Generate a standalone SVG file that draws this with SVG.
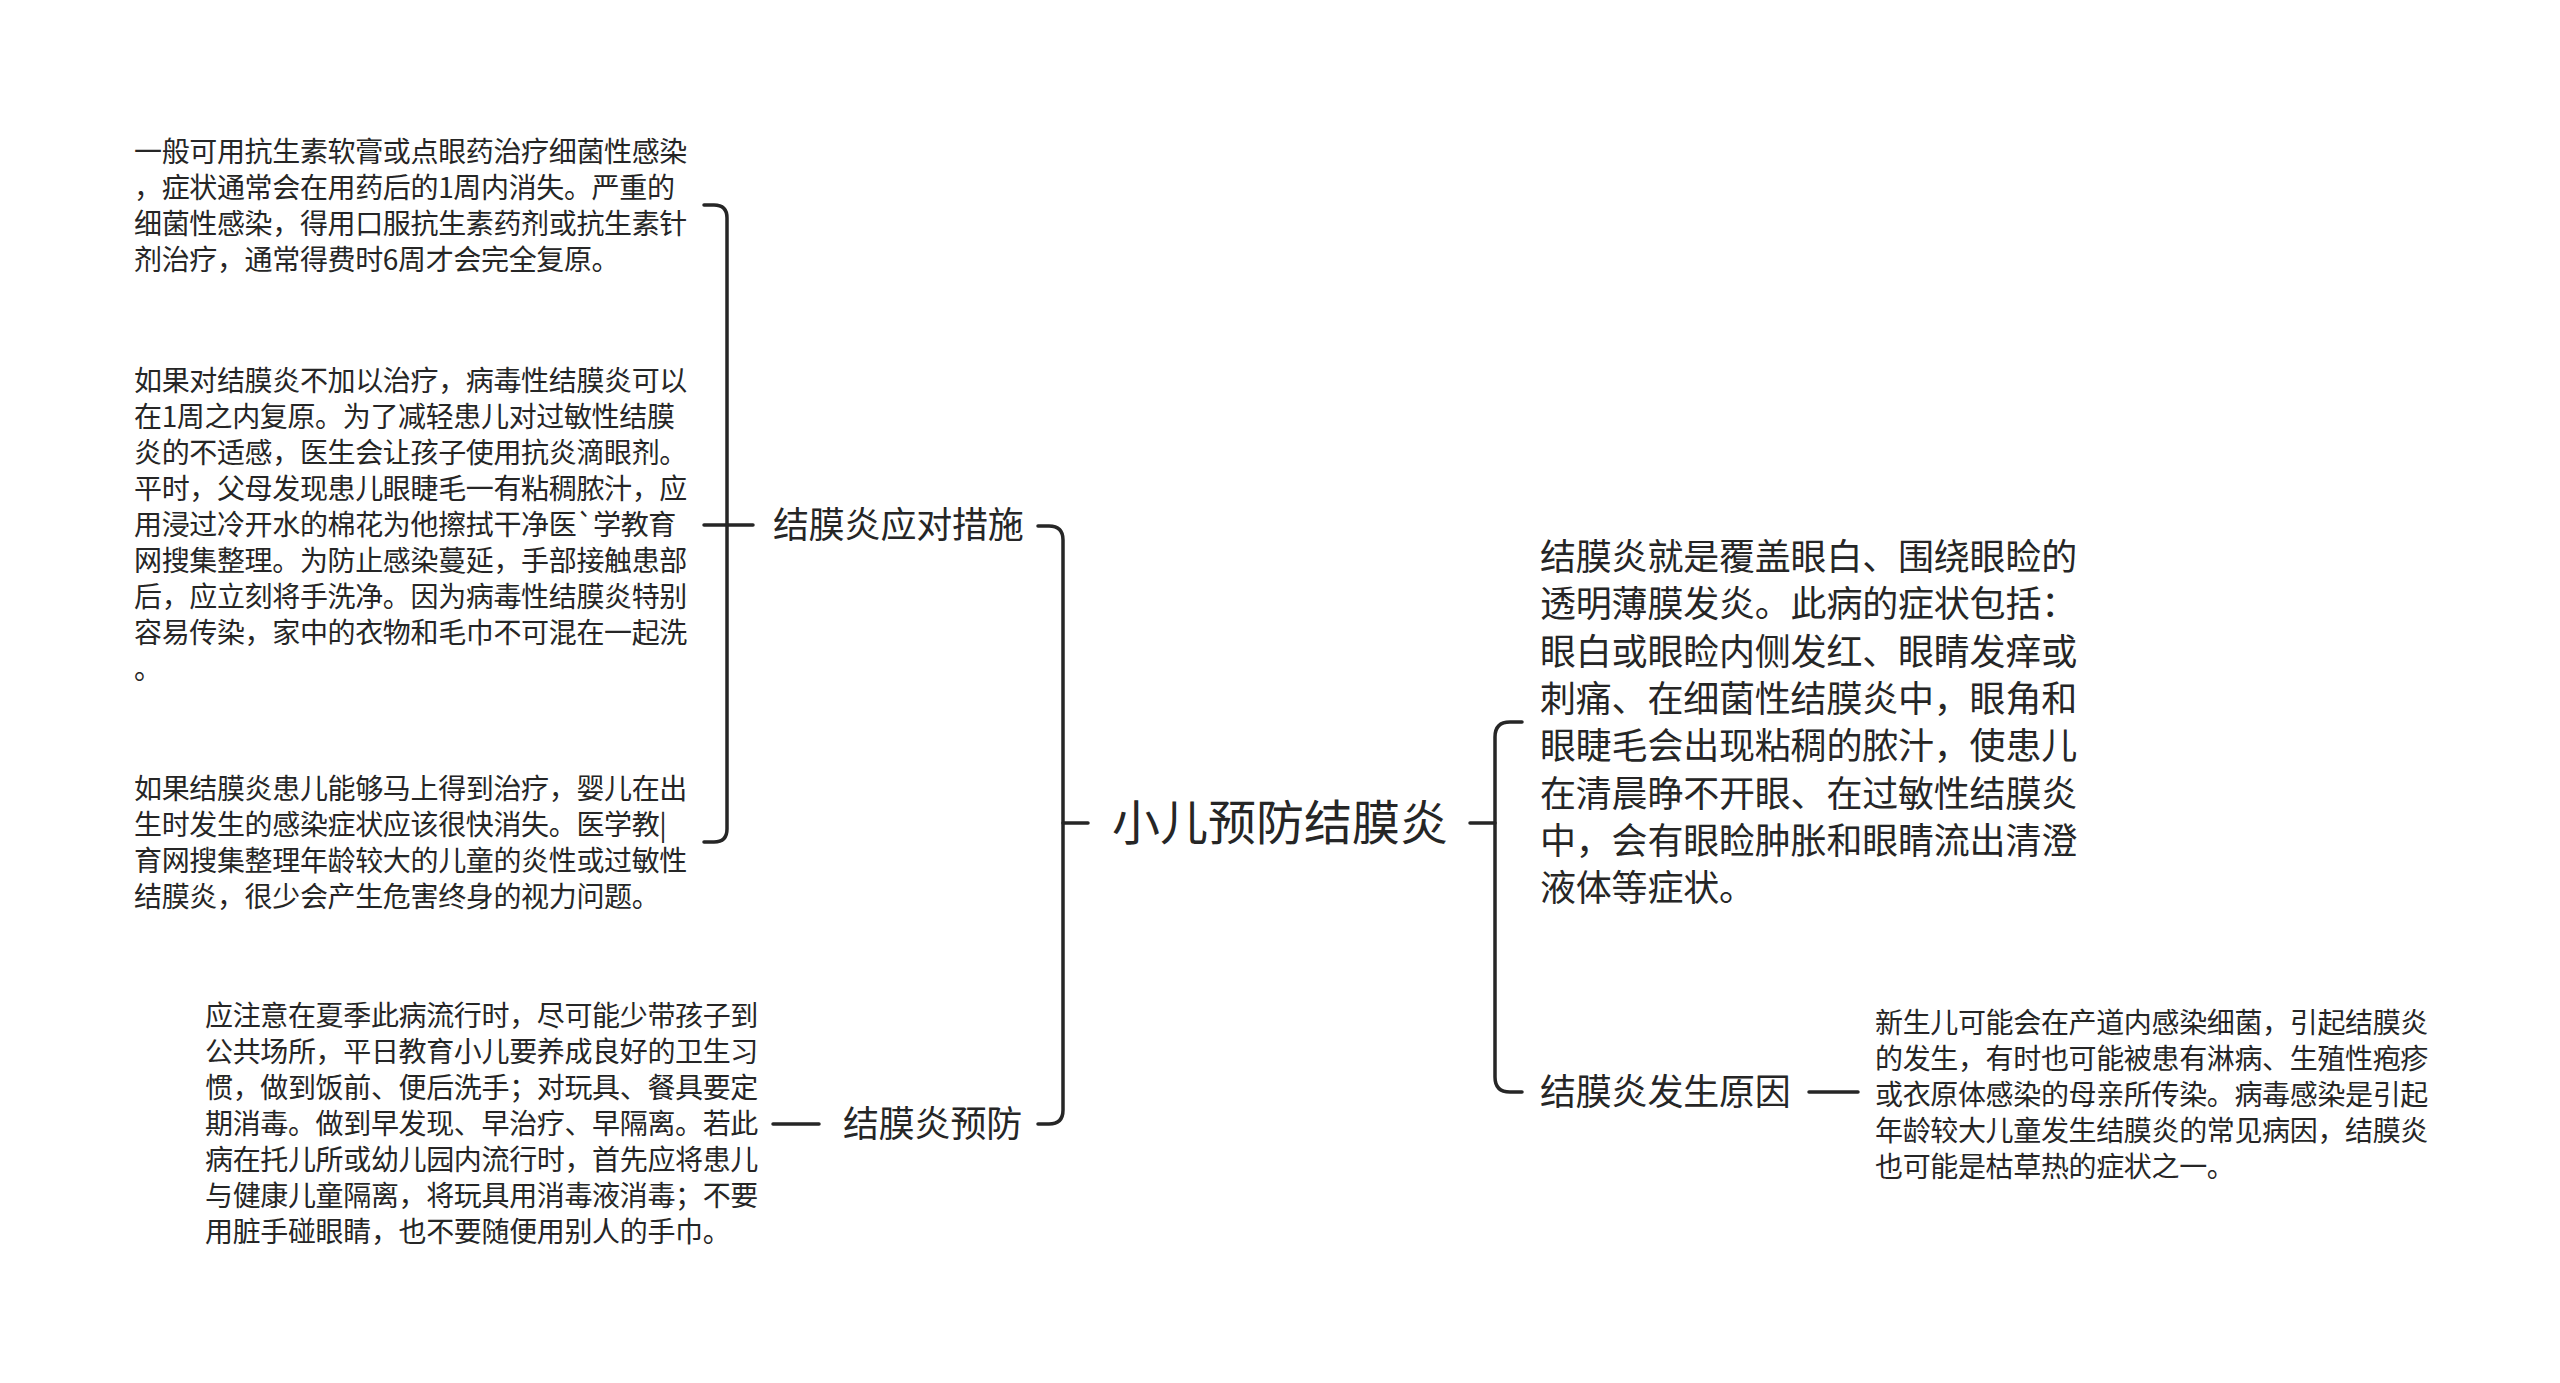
<svg xmlns="http://www.w3.org/2000/svg" width="2560" height="1383" viewBox="0 0 2560 1383">
<style>
text{font-family:"Noto Sans CJK SC","Noto Sans",sans-serif;fill:#262626;}
.root{font-size:48px;}
.sub{font-size:36px;letter-spacing:-0.2px;}
.leaf{font-size:28px;letter-spacing:-0.35px;}
.conn path,.conn line{stroke:#262626;stroke-width:3.5;fill:none;stroke-linecap:round;stroke-linejoin:round;}
</style>
<rect width="2560" height="1383" fill="#ffffff"/>
<g class="conn" id="connectors">
<line x1="1063" y1="823" x2="1088" y2="823"/>
<path d="M1038 526 H1049 Q1063 526 1063 540 V1110 Q1063 1124 1049 1124 H1038"/>
<line x1="1470" y1="823" x2="1495" y2="823"/>
<path d="M1522 722 H1510 Q1495 722 1495 737 V1077 Q1495 1092 1510 1092 H1522"/>
<line x1="704" y1="525" x2="753" y2="525"/>
<path d="M704 205 H714 Q727 205 727 218 V829 Q727 842 714 842 H704"/>
<line x1="773" y1="1124" x2="819" y2="1124"/>
<line x1="1809" y1="1092" x2="1858" y2="1092"/>
</g>
<g id="root">
<text class="root" x="1112" y="840">小儿预防结膜炎</text>
</g>
<g id="sub-measures">
<text class="sub" x="773" y="538">结膜炎应对措施</text>
</g>
<g id="sub-prevent">
<text class="sub" x="843" y="1137">结膜炎预防</text>
</g>
<g id="sub-definition">
<text class="sub">
<tspan x="1540" y="570">结膜炎就是覆盖眼白、围绕眼睑的</tspan>
<tspan x="1540" y="617">透明薄膜发炎。此病的症状包括：</tspan>
<tspan x="1540" y="665">眼白或眼睑内侧发红、眼睛发痒或</tspan>
<tspan x="1540" y="712">刺痛、在细菌性结膜炎中，眼角和</tspan>
<tspan x="1540" y="759">眼睫毛会出现粘稠的脓汁，使患儿</tspan>
<tspan x="1540" y="807">在清晨睁不开眼、在过敏性结膜炎</tspan>
<tspan x="1540" y="854">中，会有眼睑肿胀和眼睛流出清澄</tspan>
<tspan x="1540" y="901">液体等症状。</tspan>
</text>
</g>
<g id="sub-cause">
<text class="sub" x="1540" y="1105">结膜炎发生原因</text>
</g>
<g id="leaf-1">
<text class="leaf">
<tspan x="134" y="162">一般可用抗生素软膏或点眼药治疗细菌性感染</tspan>
<tspan x="134" y="198">，症状通常会在用药后的1周内消失。严重的</tspan>
<tspan x="134" y="234">细菌性感染，得用口服抗生素药剂或抗生素针</tspan>
<tspan x="134" y="270">剂治疗，通常得费时6周才会完全复原。</tspan>
</text>
</g>
<g id="leaf-2">
<text class="leaf">
<tspan x="134" y="391">如果对结膜炎不加以治疗，病毒性结膜炎可以</tspan>
<tspan x="134" y="427">在1周之内复原。为了减轻患儿对过敏性结膜</tspan>
<tspan x="134" y="463">炎的不适感，医生会让孩子使用抗炎滴眼剂。</tspan>
<tspan x="134" y="499">平时，父母发现患儿眼睫毛一有粘稠脓汁，应</tspan>
<tspan x="134" y="535">用浸过冷开水的棉花为他擦拭干净医`学教育</tspan>
<tspan x="134" y="571">网搜集整理。为防止感染蔓延，手部接触患部</tspan>
<tspan x="134" y="607">后，应立刻将手洗净。因为病毒性结膜炎特别</tspan>
<tspan x="134" y="643">容易传染，家中的衣物和毛巾不可混在一起洗</tspan>
<tspan x="134" y="679">。</tspan>
</text>
</g>
<g id="leaf-3">
<text class="leaf">
<tspan x="134" y="799">如果结膜炎患儿能够马上得到治疗，婴儿在出</tspan>
<tspan x="134" y="835">生时发生的感染症状应该很快消失。医学教|</tspan>
<tspan x="134" y="871">育网搜集整理年龄较大的儿童的炎性或过敏性</tspan>
<tspan x="134" y="907">结膜炎，很少会产生危害终身的视力问题。</tspan>
</text>
</g>
<g id="leaf-4">
<text class="leaf">
<tspan x="205" y="1026">应注意在夏季此病流行时，尽可能少带孩子到</tspan>
<tspan x="205" y="1062">公共场所，平日教育小儿要养成良好的卫生习</tspan>
<tspan x="205" y="1098">惯，做到饭前、便后洗手；对玩具、餐具要定</tspan>
<tspan x="205" y="1134">期消毒。做到早发现、早治疗、早隔离。若此</tspan>
<tspan x="205" y="1170">病在托儿所或幼儿园内流行时，首先应将患儿</tspan>
<tspan x="205" y="1206">与健康儿童隔离，将玩具用消毒液消毒；不要</tspan>
<tspan x="205" y="1242">用脏手碰眼睛，也不要随便用别人的手巾。</tspan>
</text>
</g>
<g id="leaf-5">
<text class="leaf">
<tspan x="1875" y="1033">新生儿可能会在产道内感染细菌，引起结膜炎</tspan>
<tspan x="1875" y="1069">的发生，有时也可能被患有淋病、生殖性疱疹</tspan>
<tspan x="1875" y="1105">或衣原体感染的母亲所传染。病毒感染是引起</tspan>
<tspan x="1875" y="1141">年龄较大儿童发生结膜炎的常见病因，结膜炎</tspan>
<tspan x="1875" y="1177">也可能是枯草热的症状之一。</tspan>
</text>
</g>
</svg>
